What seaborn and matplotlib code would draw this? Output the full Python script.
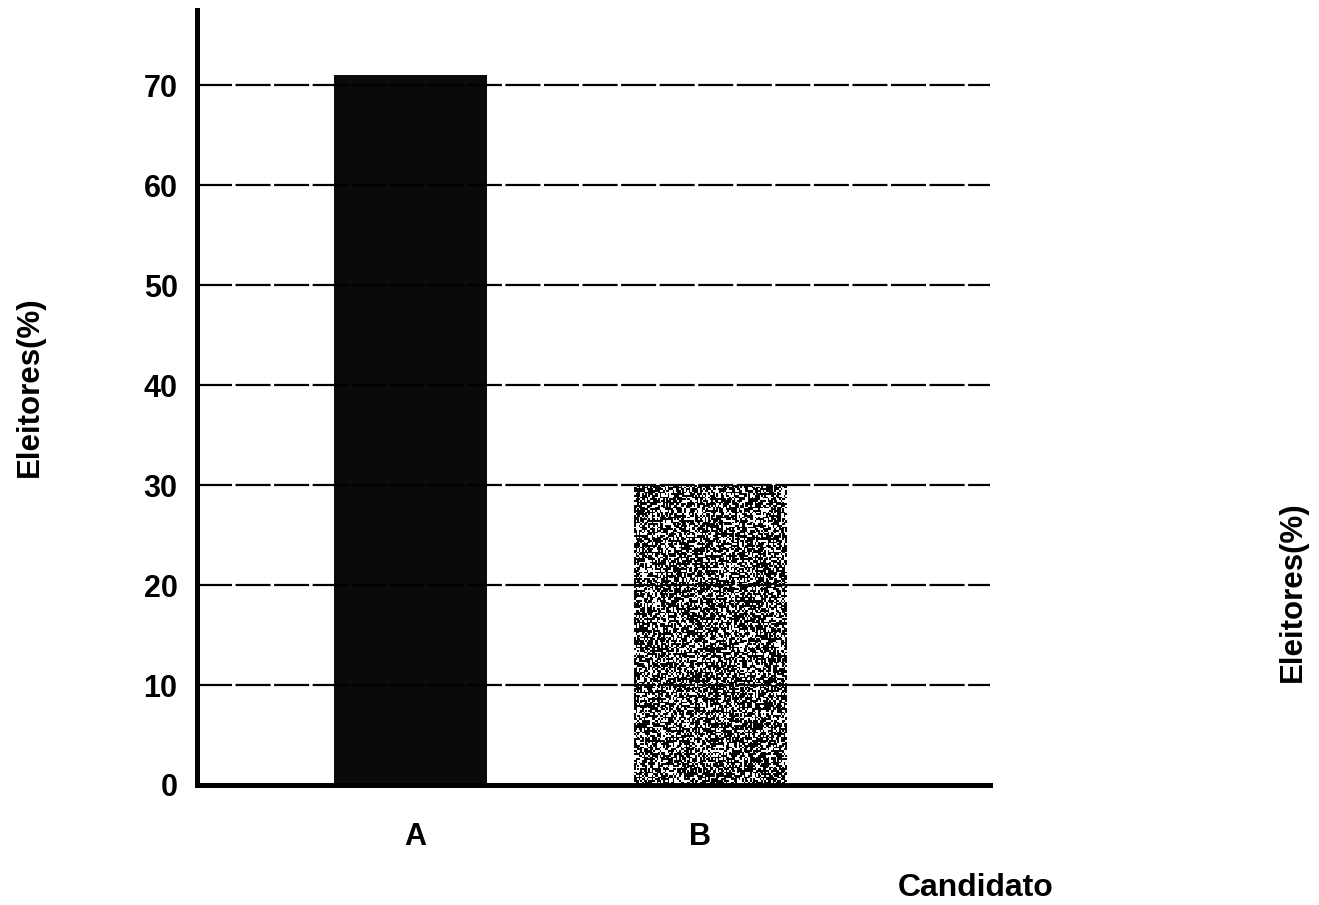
import numpy as np
import pandas as pd
import matplotlib
matplotlib.use("Agg")
import matplotlib.pyplot as plt
import matplotlib.transforms as mtransforms
import seaborn as sns

candidates = ["A", "B"]
voters_pct = [71, 30]
y_ticks = [0, 10, 20, 30, 40, 50, 60, 70]

sns.set_theme(style="white")
plt.rcParams['font.family'] = ['Liberation Sans', 'DejaVu Sans']

fig = plt.figure(figsize=(13.19, 9.05), dpi=100)
ax = fig.add_axes([0.1494, 0.1326, 0.601, 0.856])

df = pd.DataFrame({"Candidato": candidates, "Eleitores": voters_pct})
sns.barplot(data=df, x="Candidato", y="Eleitores", ax=ax,
            palette=["#0a0a0a", "#1a1a1a"], hue="Candidato", legend=False,
            width=0.51, saturation=1, edgecolor="none")

# speckled texture for bar B
pB = ax.patches[1]
x0, y0, w, h = pB.get_x(), pB.get_y(), pB.get_width(), pB.get_height()
pB.set_facecolor("black")
rng = np.random.default_rng(3)
tex = (rng.random((180, 95)) < 0.38).astype(float)
im = ax.imshow(tex, cmap="gray", vmin=0, vmax=1, extent=[x0, x0 + w, y0, y0 + h],
               aspect="auto", interpolation="nearest", zorder=pB.get_zorder() + 0.1)
im.set_clip_path(pB)

ax.set_xlim(-0.713, 1.93)
ax.set_ylim(0, 77.5)
ax.set_yticks(y_ticks)
ax.set_yticklabels([str(t) for t in y_ticks])

ax.set_axisbelow(False)
ax.yaxis.grid(True, color="black", linewidth=1.6, linestyle=(0, (15.75, 1.6)), zorder=5)
ax.xaxis.grid(False)

for s in ["top", "right"]:
    ax.spines[s].set_visible(False)
for s in ["left", "bottom"]:
    ax.spines[s].set_color("black")
    ax.spines[s].set_linewidth(3.6)
    ax.spines[s].set_zorder(6)

ax.tick_params(axis="y", length=0, pad=14, labelsize=22)
ax.tick_params(axis="x", length=0, pad=27, labelsize=22)
for lab in ax.get_xticklabels() + ax.get_yticklabels():
    lab.set_fontweight("bold")
    lab.set_color("black")

# small horizontal offsets of the category labels, as in the reference
for lab, dx in zip(ax.get_xticklabels(), [4, -11]):
    lab.set_transform(lab.get_transform() +
                      mtransforms.ScaledTranslation(dx / 100, 0, fig.dpi_scale_trans))

ax.set_ylabel("Eleitores(%)", fontsize=22.5, fontweight="bold", color="black", va="center")
ax.yaxis.set_label_coords((30 - 197) / 793, (785 - 387) / 775)
ax.set_xlabel("Candidato", fontsize=23, fontweight="bold", color="black", va="center")
ax.xaxis.set_label_coords((976 - 197) / 793, (785 - 888) / 775)

fig.text(1293 / 1319, 1 - 592 / 905, "Eleitores(%)", rotation=90, fontsize=22.5,
         fontweight="bold", ha="center", va="center", color="black")

fig.savefig("out.png", dpi=100, facecolor="white")
